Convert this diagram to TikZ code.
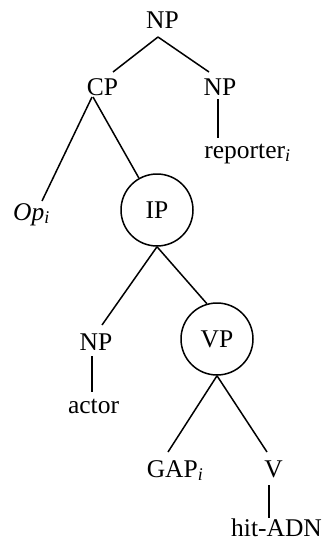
\documentclass[tikz,border=0pt]{standalone}
\usepackage{fontspec}
\setmainfont{Liberation Serif}
\begin{document}
\begin{tikzpicture}[x=1pt,y=-1pt,
  lbl/.style={anchor=base,inner sep=0pt,font=\fontsize{25.5}{30}\selectfont},
  ring/.style={circle,draw,line width=1.5pt,minimum size=72pt,inner sep=0pt,font=\fontsize{25.5}{30}\selectfont},
  edge/.style={line width=1.5pt}]
\useasboundingbox (0,0) rectangle (326,543);
\node[lbl] (np1) at (162.5,29) {NP};
\node[lbl] (cp) at (102.5,95) {CP};
\node[lbl] (np2) at (220,95) {NP};
\node[lbl] (rep) at (247.5,158) {reporter\textsubscript{\textit{i}}};
\node[lbl] (op) at (31.5,220) {\textit{Op}\textsubscript{\textit{i}}};
\node[ring] (ip) at (157,210) {IP};
\node[lbl] (np3) at (96,350) {NP};
\node[lbl] (actor) at (93.5,413) {actor};
\node[ring] (vp) at (217,339) {VP};
\node[lbl] (gap) at (175,477) {GAP\textsubscript{\textit{i}}};
\node[lbl] (v) at (273.5,477) {V};
\node[lbl] (hit) at (276.5,536.5) {hit-ADN};
\draw[edge] ([shift={(-4.5,8)}]np1.base) -- ([shift={(10.5,-23)}]cp.base);
\draw[edge] ([shift={(-4.5,8)}]np1.base) -- ([shift={(-11,-23)}]np2.base);
\draw[edge] ([shift={(-2,4)}]np2.base) -- ([shift={(-29.5,-20)}]rep.base);
\draw[edge] ([shift={(-10.5,2)}]cp.base) -- ([shift={(10.5,-19)}]op.base);
\draw[edge] ([shift={(-9.5,2)}]cp.base) -- (ip);
\draw[edge] (ip.south) -- ([shift={(6,-25)}]np3.base);
\draw[edge] (ip.south) -- (vp.106);
\draw[edge] ([shift={(-4,6)}]np3.base) -- ([shift={(-1.5,-21)}]actor.base);
\draw[edge] (vp.south) -- ([shift={(-7,-25)}]gap.base);
\draw[edge] (vp.south) -- ([shift={(-6.5,-25)}]v.base);
\draw[edge] ([shift={(-4.5,8)}]v.base) -- ([shift={(-7.5,-19)}]hit.base);
\end{tikzpicture}
\end{document}
